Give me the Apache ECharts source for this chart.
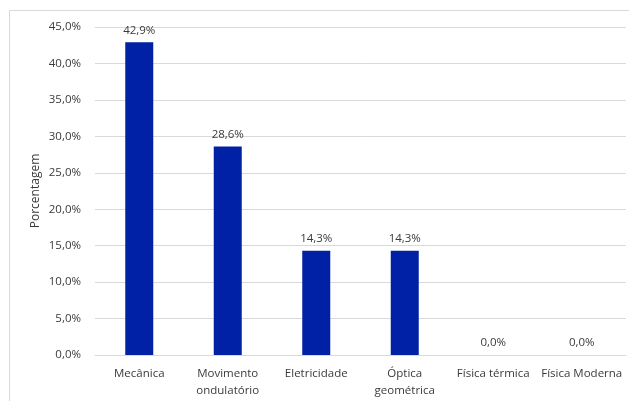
<!DOCTYPE html>
<html>
<head>
<meta charset="utf-8">
<script src="https://cdn.jsdelivr.net/npm/echarts@6/dist/echarts.min.js"></script>
<style>
  html, body { margin: 0; padding: 0; background: #fff; }
  #chart { width: 629px; height: 401px; }
</style>
</head>
<body>
<div id="chart"></div>
<script>
// Áreas da física e porcentagem de ocorrência
const categories = ['Mecânica', 'Movimento\nondulatório', 'Eletricidade', 'Óptica\ngeométrica', 'Física térmica', 'Física Moderna'];
const percentages = [42.9, 28.6, 14.3, 14.3, 0.0, 0.0];
const yMin = 0, yMax = 45, yStep = 5;

const fmt = v => v.toFixed(1).replace('.', ',') + '%';
const font = '"Open Sans", "Noto Sans", sans-serif';
const textColor = '#3a3a3a';

const chart = echarts.init(document.getElementById('chart'), null, { renderer: 'canvas' });
chart.setOption({
  animation: false,
  backgroundColor: '#ffffff',
  graphic: [{
    type: 'rect',
    shape: { x: 9.5, y: 10.5, width: 700, height: 500 },
    style: { fill: 'none', stroke: '#d9d9d9', lineWidth: 1 },
    silent: true
  }],
  grid: { left: 95, right: 3, top: 27, bottom: 46 },
  xAxis: {
    type: 'category',
    data: categories,
    axisLine: { show: true, lineStyle: { color: '#d9d9d9' } },
    axisTick: { show: false },
    axisLabel: {
      interval: 0, color: textColor, fontFamily: font, fontSize: 11.5,
      margin: 10, lineHeight: 17
    }
  },
  yAxis: {
    type: 'value',
    min: yMin, max: yMax, interval: yStep,
    name: 'Porcentagem',
    nameLocation: 'middle',
    nameGap: 53,
    nameMoveOverlap: false,
    nameRotate: 90,
    nameTextStyle: { color: textColor, fontFamily: font, fontSize: 12 },
    axisLine: { show: false },
    axisTick: { show: false },
    axisLabel: { formatter: fmt, color: textColor, fontFamily: font, fontSize: 11.5, margin: 14 },
    splitLine: { lineStyle: { color: '#d9d9d9' } }
  },
  series: [{
    type: 'bar',
    data: percentages,
    barWidth: 28,
    itemStyle: { color: '#0021a5' },
    label: {
      show: true, position: 'top', distance: 6,
      formatter: p => fmt(p.value),
      color: textColor, fontFamily: font, fontSize: 11.5
    }
  }]
});
</script>
</body>
</html>
